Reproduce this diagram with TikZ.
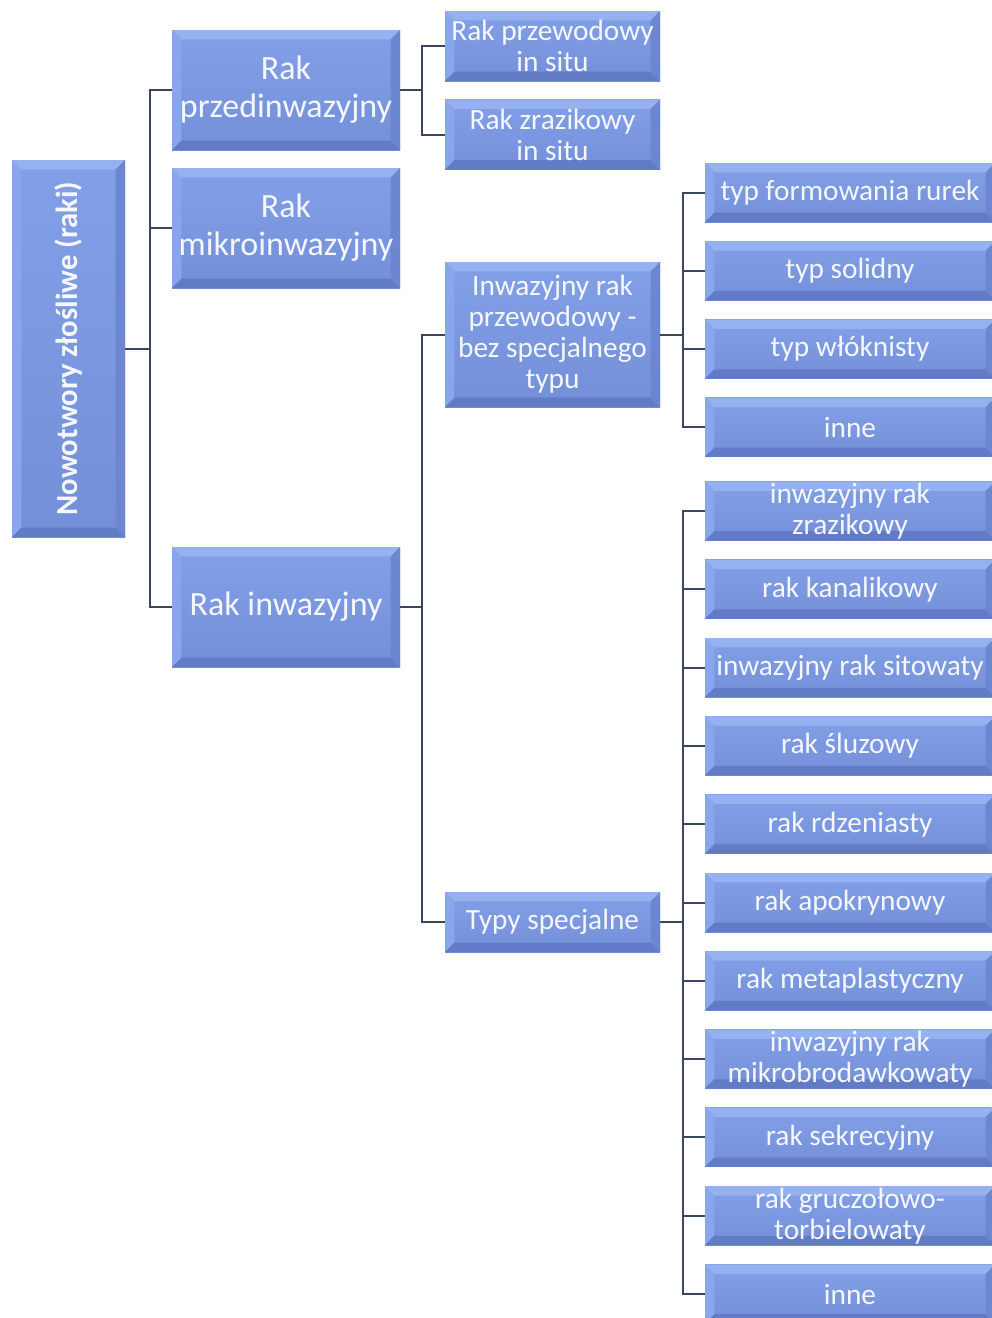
\documentclass[tikz,border=0pt]{standalone}
\usepackage{fontspec}
\setmainfont{Carlito}
\usetikzlibrary{calc}
\definecolor{boxface}{RGB}{122,151,224}
\definecolor{facetop}{RGB}{130,160,232}
\definecolor{facebottom}{RGB}{115,143,216}
\definecolor{bvtop}{RGB}{150,177,240}
\definecolor{bvleft}{RGB}{138,166,234}
\definecolor{bvbottom}{RGB}{98,123,198}
\definecolor{bvright}{RGB}{108,134,208}
\definecolor{linkcol}{RGB}{58,70,98}
\definecolor{boxtext}{RGB}{246,247,252}

\begin{document}
\begin{tikzpicture}[x=0.75pt,y=-0.75pt,
  bevel/.style={path picture={
    \fill[bvtop] (path picture bounding box.north west) -- (path picture bounding box.north east)
      -- ([xshift=-7pt,yshift=-7pt]path picture bounding box.north east)
      -- ([xshift=7pt,yshift=-7pt]path picture bounding box.north west) -- cycle;
    \fill[bvleft] (path picture bounding box.north west) -- (path picture bounding box.south west)
      -- ([xshift=7pt,yshift=7pt]path picture bounding box.south west)
      -- ([xshift=7pt,yshift=-7pt]path picture bounding box.north west) -- cycle;
    \fill[bvbottom] (path picture bounding box.south west) -- (path picture bounding box.south east)
      -- ([xshift=-7pt,yshift=7pt]path picture bounding box.south east)
      -- ([xshift=7pt,yshift=7pt]path picture bounding box.south west) -- cycle;
    \fill[bvright] (path picture bounding box.north east) -- (path picture bounding box.south east)
      -- ([xshift=-7pt,yshift=7pt]path picture bounding box.south east)
      -- ([xshift=-7pt,yshift=-7pt]path picture bounding box.north east) -- cycle;
  }},
  box/.style={top color=facetop, bottom color=facebottom, draw=none,
    inner sep=0pt, outer sep=0pt, align=center, text=boxtext, bevel},
  sz/.style 2 args={minimum width=0.75pt*#1, minimum height=0.75pt*#2},
  lvA/.style={font=\fontsize{25.5}{28.5}\selectfont},
  lvB/.style={font=\fontsize{22}{23.3}\selectfont},
  conn/.style={draw=linkcol, line width=1.5pt}
]
\useasboundingbox (0,0) rectangle (992,1318);
\clip (0,0) rectangle (992,1318);
\fill[white] (0,0) rectangle (992,1318);

% root
\node[box, sz={113}{377}, font=\fontsize{23}{26}\selectfont\bfseries] (root) at (68.5,348.5)
  {\rotatebox{90}{Nowotwory złośliwe (raki)}};

% first level
\node[box, sz={228}{120}, lvA] (pre)   at (286,90)  {Rak\\przedinwazyjny};
\node[box, sz={228}{120}, lvA] (mikro) at (286,228) {Rak\\mikroinwazyjny};
\node[box, sz={228}{120}, lvA] (inw)   at (286,607) {Rak inwazyjny};

% second level
\node[box, sz={215}{70}, lvB]  (przew) at (552.5,46)    {Rak przewodowy\\in situ};
\node[box, sz={215}{70}, lvB]  (zraz)  at (552.5,134.5) {Rak zrazikowy\\in situ};
\node[box, sz={215}{145}, lvB] (bez)   at (552.5,334.5) {Inwazyjny rak\\przewodowy -\\bez specjalnego\\typu};
\node[box, sz={215}{60}, lvB]  (typy)  at (552.5,922)   {Typy specjalne};

% third level: no special type
\node[box, sz={290}{59}, lvB] (n1) at (850,192.5) {typ formowania rurek};
\node[box, sz={290}{59}, lvB] (n2) at (850,270.8) {typ solidny};
\node[box, sz={290}{59}, lvB] (n3) at (850,349.1) {typ włóknisty};
\node[box, sz={290}{59}, lvB] (n4) at (850,427.4) {inne};

% third level: special types
\node[box, sz={290}{59}, lvB] (s1)  at (850,511)    {inwazyjny rak\\zrazikowy};
\node[box, sz={290}{59}, lvB] (s2)  at (850,589.3)  {rak kanalikowy};
\node[box, sz={290}{59}, lvB] (s3)  at (850,667.6)  {inwazyjny rak sitowaty};
\node[box, sz={290}{59}, lvB] (s4)  at (850,745.9)  {rak śluzowy};
\node[box, sz={290}{59}, lvB] (s5)  at (850,824.2)  {rak rdzeniasty};
\node[box, sz={290}{59}, lvB] (s6)  at (850,902.5)  {rak apokrynowy};
\node[box, sz={290}{59}, lvB] (s7)  at (850,980.8)  {rak metaplastyczny};
\node[box, sz={290}{59}, lvB] (s8)  at (850,1059.1) {inwazyjny rak\\mikrobrodawkowaty};
\node[box, sz={290}{59}, lvB] (s9)  at (850,1137.4) {rak sekrecyjny};
\node[box, sz={290}{59}, lvB] (s10) at (850,1215.7) {rak gruczołowo-\\torbielowaty};
\node[box, sz={290}{59}, lvB] (s11) at (850,1294)   {inne};

% connectors
\draw[conn] (root.east) -- ++(25,0) coordinate (busA);
\foreach \c in {pre,mikro,inw} \draw[conn] (busA) |- (\c.west);

\draw[conn] (pre.east) -- ++(22,0) coordinate (busB);
\foreach \c in {przew,zraz} \draw[conn] (busB) |- (\c.west);

\draw[conn] (inw.east) -- ++(22,0) coordinate (busC);
\foreach \c in {bez,typy} \draw[conn] (busC) |- (\c.west);

\draw[conn] (bez.east) -- ++(23,0) coordinate (busD);
\foreach \c in {n1,n2,n3,n4} \draw[conn] (busD) |- (\c.west);

\draw[conn] (typy.east) -- ++(23,0) coordinate (busE);
\foreach \c in {s1,s2,s3,s4,s5,s6,s7,s8,s9,s10,s11} \draw[conn] (busE) |- (\c.west);
\end{tikzpicture}
\end{document}
